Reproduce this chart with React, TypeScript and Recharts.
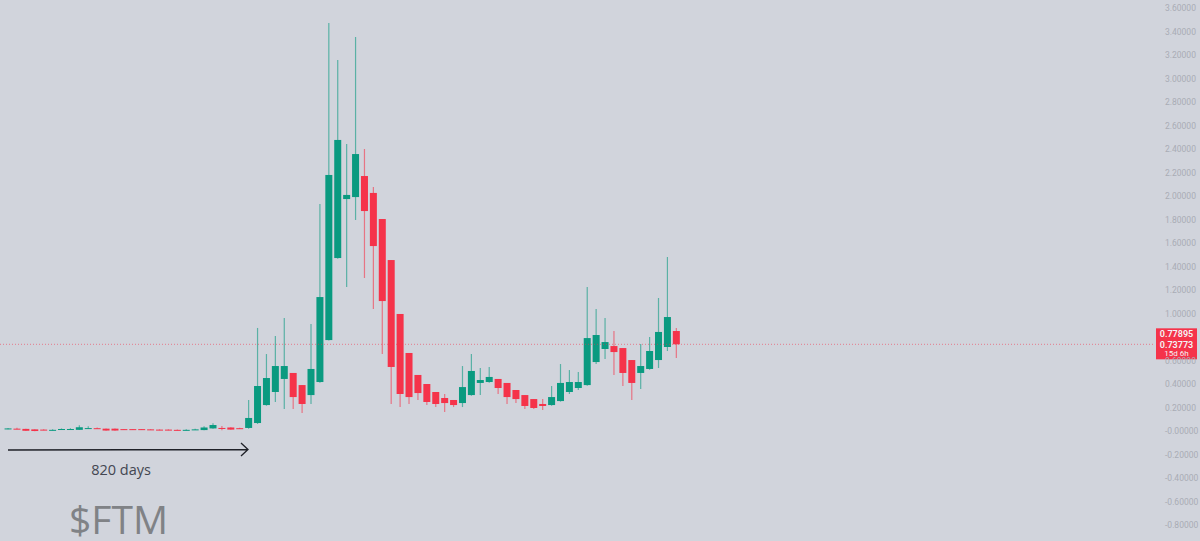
import React from 'react';
import {
  Bar,
  ComposedChart,
  ReferenceLine,
  XAxis,
  YAxis,
} from 'recharts';

const opens = [
  0.02, 0.02, 0.018, 0.014, 0.012, 0.008, 0.014, 0.014, 0.01, 0.022, 0.024, 0.02, 0.02, 0.016,
  0.016, 0.016, 0.014, 0.012, 0.012, 0.01, 0.008, 0.012, 0.008, 0.022, 0.026, 0.03, 0.024,
  0.026, 0.068, 0.221, 0.332, 0.443, 0.494, 0.391, 0.306, 0.417, 0.774, 1.472, 1.974, 1.991,
  2.17, 2.026, 1.804, 1.455, 0.996, 0.664, 0.477, 0.4, 0.332, 0.281, 0.264, 0.238, 0.306,
  0.409, 0.417, 0.443, 0.409, 0.349, 0.306, 0.272, 0.23, 0.221, 0.255, 0.332, 0.366, 0.391,
  0.587, 0.698, 0.723, 0.706, 0.604, 0.494, 0.528, 0.604, 0.715, 0.851,
];
const closes = [
  0.022, 0.018, 0.002, 0.0, 0.01, 0.01, 0.017, 0.017, 0.032, 0.025, 0.021, 0.004, 0.004, 0.014,
  0.014, 0.014, 0.012, 0.01, 0.01, 0.008, 0.01, 0.014, 0.03, 0.051, 0.024, 0.012, 0.022,
  0.111, 0.383, 0.451, 0.553, 0.553, 0.289, 0.23, 0.528, 1.14, 2.179, 2.477, 2.009, 2.357,
  1.872, 1.574, 1.106, 0.545, 0.315, 0.289, 0.323, 0.247, 0.23, 0.238, 0.221, 0.374, 0.511,
  0.434, 0.46, 0.366, 0.289, 0.272, 0.213, 0.196, 0.213, 0.289, 0.409, 0.417, 0.417, 0.791,
  0.817, 0.757, 0.672, 0.494, 0.409, 0.553, 0.681, 0.843, 0.97, 0.738,
];
const highs = [
  0.026, 0.028, 0.02, 0.016, 0.014, 0.014, 0.022, 0.024, 0.05, 0.04, 0.03, 0.022, 0.022, 0.018,
  0.018, 0.018, 0.016, 0.014, 0.014, 0.012, 0.014, 0.02, 0.04, 0.066, 0.042, 0.032, 0.028,
  0.264, 0.877, 0.655, 0.809, 0.962, 0.494, 0.391, 0.911, 1.932, 3.472, 3.157, 2.443, 3.353,
  2.4, 2.077, 1.804, 1.455, 0.996, 0.664, 0.477, 0.4, 0.332, 0.315, 0.264, 0.553, 0.655,
  0.536, 0.545, 0.443, 0.409, 0.349, 0.306, 0.272, 0.272, 0.383, 0.57, 0.519, 0.502, 1.226,
  1.038, 0.962, 0.851, 0.706, 0.604, 0.74, 0.8, 1.132, 1.481, 0.877,
];
const lows = [
  0.016, 0.014, 0.0, -0.002, 0.006, 0.004, 0.01, 0.01, 0.008, 0.018, 0.018, 0.002, 0.002, 0.01,
  0.01, 0.01, 0.008, 0.006, 0.006, 0.004, 0.004, 0.008, 0.006, 0.02, 0.006, 0.01, 0.018,
  0.02, 0.06, 0.215, 0.247, 0.187, 0.187, 0.153, 0.23, 0.41, 0.77, 1.465, 1.226, 1.796,
  1.302, 1.038, 0.655, 0.23, 0.204, 0.23, 0.264, 0.221, 0.204, 0.162, 0.204, 0.204, 0.3,
  0.306, 0.41, 0.315, 0.23, 0.238, 0.187, 0.187, 0.179, 0.215, 0.25, 0.315, 0.349, 0.385,
  0.57, 0.613, 0.477, 0.383, 0.264, 0.357, 0.522, 0.536, 0.681, 0.621,
];

// 0.80000 sits behind the price tag in the reference, so it is left out
const priceTicks = [
  3.6, 3.4, 3.2, 3, 2.8, 2.6, 2.4, 2.2, 2, 1.8, 1.6, 1.4, 1.2, 1, 0.6, 0.4, 0.2, 0, -0.2,
  -0.4, -0.6, -0.8,
];
const lastPrice = 0.73773;
const FUTURE_BARS = 53;

const UP = '#0a9a80';
const DOWN = '#f5334a';
const BG = '#d1d4dc';

const rows: any[] = opens.map((open, i) => ({
  idx: i,
  open,
  close: closes[i],
  range: [lows[i], highs[i]],
}));
for (let i = 0; i < FUTURE_BARS; i++) {
  rows.push({ idx: opens.length + i, open: null, close: null, range: null });
}

const Candle = (props: any) => {
  const { x, y, width, height, payload } = props;
  if (payload.open == null || !height) return null;
  const [low, high] = payload.range;
  const perUnit = height / (high - low);
  const yOf = (v: number) => y + (high - v) * perUnit;
  const up = payload.close >= payload.open;
  const color = up ? UP : DOWN;
  const top = yOf(Math.max(payload.open, payload.close));
  const bottom = yOf(Math.min(payload.open, payload.close));
  const cx = x + width / 2;
  return (
    <g>
      <line x1={cx} x2={cx} y1={y} y2={y + height} stroke={color} strokeWidth={1.2} strokeOpacity={0.6} />
      <rect x={cx - 3.5} y={top} width={7} height={Math.max(bottom - top, 1)} fill={color} />
    </g>
  );
};

const PriceTag = ({ viewBox }: any) => {
  const y = viewBox.y;
  return (
    <g fontFamily="Roboto, sans-serif" fontSize={9} fill="#f4f4f6" textAnchor="middle">
      <rect x={1156} y={y - 16} width={41} height={31} fill={DOWN} />
      <text x={1176.5} y={y - 7.5} fontWeight={600}>0.77895</text>
      <text x={1176.5} y={y + 3.5} fontWeight={600}>0.73773</text>
      <text x={1176.5} y={y + 12} fontSize={8}>15d 6h</text>
    </g>
  );
};

const App = () => {
  return (
    <div style={{ position: 'absolute', left: 0, top: 0, width: 1200, height: 541, background: BG, overflow: 'hidden' }}>
      <ComposedChart
        width={1200}
        height={541}
        data={rows}
        margin={{ top: 0, right: 0, bottom: 0, left: 0 }}
        barCategoryGap={0}
      >
        <XAxis dataKey="idx" hide padding={{ left: 3.55, right: 0 }} />
        <YAxis
          orientation="right"
          width={47}
          domain={[-0.936, 3.668]}
          allowDataOverflow
          ticks={priceTicks}
          interval={0}
          axisLine={false}
          tickLine={false}
          tickMargin={0}
          tickFormatter={(v: number) => (v === 0 ? '-0.00000' : v.toFixed(5))}
          tick={{ fill: '#a9acb5', fontSize: 8.5, fontFamily: 'Roboto, sans-serif', dx: 6, dy: 0 }}
        />
        <Bar dataKey="range" shape={<Candle />} isAnimationActive={false} />
        <ReferenceLine
          y={lastPrice}
          stroke={DOWN}
          strokeOpacity={0.55}
          strokeDasharray="1 2"
          label={<PriceTag />}
        />
      </ComposedChart>
      <svg width={1200} height={541} style={{ position: 'absolute', left: 0, top: 0, pointerEvents: 'none' }}>
        <path d="M8 450 L248 449.5 M241 443 L248 449.5 L241 456" fill="none" stroke="#1f2128" strokeWidth={1.3} />
        <text x={121} y={475} textAnchor="middle" fontFamily="'Open Sans', sans-serif" fontSize={14.5} fill="#434651">
          820 days
        </text>
        <text x={69} y={534} fontFamily="'Open Sans', sans-serif" fontSize={39} fill="#808286">
          $FTM
        </text>
      </svg>
    </div>
  );
};

export default App;
